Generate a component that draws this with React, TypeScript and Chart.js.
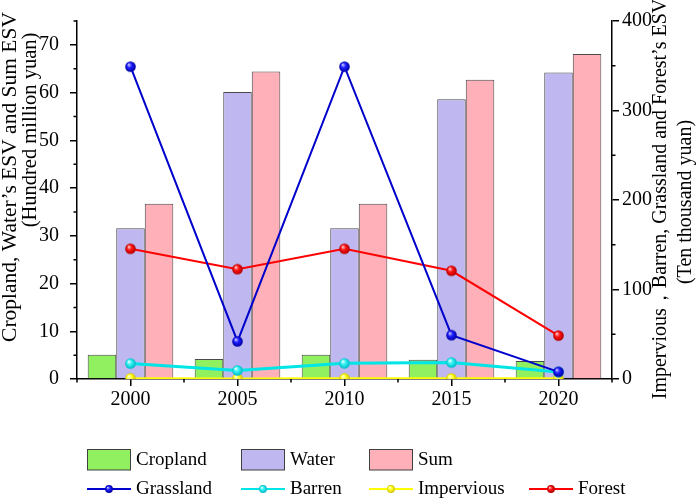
import { useEffect, useRef } from 'react';
import { Chart, registerables } from 'chart.js';

Chart.register(...registerables);

const categories = ['2000', '2005', '2010', '2015', '2020'];
const cropland = [5.07, 4.18, 5.07, 4.05, 3.77];
const water = [31.6, 60.1, 31.6, 58.6, 64.2];
const sum = [36.7, 64.4, 36.7, 62.7, 68.1];
const grassland = [349, 42, 349, 49, 8];
const barren = [17.3, 9.5, 17.5, 18.4, 7.7];
const impervious = [0.8, 0.6, 0.8, 0.7, 0.9];
const forest = [145.5, 122.7, 145.5, 120.9, 48.5];

const leftTitle = ['Cropland, Water\u2019s ESV and Sum ESV', '(Hundred million yuan)'];
const rightTitle = ['Impervious\uFF0CBarren, Grassland and Forest\u2019s ESV', '(Ten thousand yuan)'];
const legendRow1 = ['Cropland', 'Water', 'Sum'];
const legendRow2 = ['Grassland', 'Barren', 'Impervious', 'Forest'];

const FONT = '"Liberation Serif", "Times New Roman", serif';

function makeBall(light: string, mid: string, dark: string, r: number) {
  const c = document.createElement('canvas');
  const s = Math.ceil(r * 2) + 2;
  c.width = s;
  c.height = s;
  const g = c.getContext('2d')!;
  const cx = s / 2;
  const cy = s / 2;
  const grad = g.createRadialGradient(cx - r * 0.35, cy - r * 0.4, r * 0.05, cx, cy, r);
  grad.addColorStop(0, light);
  grad.addColorStop(0.45, mid);
  grad.addColorStop(1, dark);
  g.fillStyle = grad;
  g.beginPath();
  g.arc(cx, cy, r, 0, Math.PI * 2);
  g.fill();
  return c;
}

export default function App() {
  const ref = useRef<HTMLCanvasElement>(null);

  useEffect(() => {
    const canvas = ref.current!;
    const ballDefs: Record<string, [string, string, string]> = {
      Grassland: ['#c8c8ff', '#1a1aff', '#0000a0'],
      Barren: ['#e8ffff', '#30f0f0', '#00b8c8'],
      Impervious: ['#ffffe0', '#ffff20', '#d0c000'],
      Forest: ['#ffd0d0', '#ff1010', '#b00000'],
    };
    const big: Record<string, HTMLCanvasElement> = {};
    const small: Record<string, HTMLCanvasElement> = {};
    Object.keys(ballDefs).forEach((k) => {
      const [a, b, c] = ballDefs[k];
      big[k] = makeBall(a, b, c, 5.3);
      small[k] = makeBall(a, b, c, 3.9);
    });

    const lineColors: Record<string, string> = {
      Grassland: '#0000cc',
      Barren: '#00e5e5',
      Impervious: '#ffff00',
      Forest: '#ff0000',
    };
    const lineWidths: Record<string, number> = {
      Grassland: 2,
      Barren: 3,
      Impervious: 2,
      Forest: 2,
    };

    const lineDs = (label: string, data: number[]) => ({
      type: 'line' as const,
      label,
      data,
      yAxisID: 'y1',
      borderColor: lineColors[label],
      backgroundColor: lineColors[label],
      borderWidth: lineWidths[label],
      tension: 0,
      pointStyle: big[label],
      pointRadius: 5,
      order: 1,
    });

    const barDs = (label: string, data: number[], color: string) => ({
      type: 'bar' as const,
      label,
      data,
      yAxisID: 'y',
      backgroundColor: color,
      borderColor: '#4a4a4a',
      borderWidth: 1,
      categoryPercentage: 0.8,
      barPercentage: 1.0,
      order: 2,
    });

    const drawRot = (ctx: CanvasRenderingContext2D, text: string, cx: number, cy: number) => {
      ctx.save();
      ctx.translate(cx, cy);
      ctx.rotate(-Math.PI / 2);
      ctx.textAlign = 'center';
      ctx.textBaseline = 'middle';
      ctx.fillText(text, 0, 0);
      ctx.restore();
    };

    const decor = {
      id: 'decor',
      afterDraw(chart: any) {
        const { ctx, chartArea: a, scales } = chart;
        const x = scales.x;
        const y = scales.y;
        const y1 = scales.y1;
        ctx.save();
        // minor ticks
        ctx.strokeStyle = '#000';
        ctx.lineWidth = 1.5;
        ctx.beginPath();
        for (let v = y.min + 5; v <= y.max + 0.001; v += 10) {
          const p = y.getPixelForValue(v);
          ctx.moveTo(a.left - 3.5, p);
          ctx.lineTo(a.left, p);
        }
        for (let v = y1.min + 50; v < y1.max; v += 100) {
          const p = y1.getPixelForValue(v);
          ctx.moveTo(a.right, p);
          ctx.lineTo(a.right + 3.5, p);
        }
        const half = (x.getPixelForValue(1) - x.getPixelForValue(0)) / 2;
        for (let i = 0; i <= categories.length; i++) {
          const p = x.getPixelForValue(i) - half;
          ctx.moveTo(p, a.bottom);
          ctx.lineTo(p, a.bottom + 3.5);
        }
        ctx.stroke();

        // axis titles
        ctx.fillStyle = '#000';
        ctx.font = `21.5px ${FONT}`;
        drawRot(ctx, leftTitle[0], 10, 177);
        ctx.font = `20.5px ${FONT}`;
        drawRot(ctx, leftTitle[1], 31, 130);
        ctx.font = `20px ${FONT}`;
        drawRot(ctx, rightTitle[0], 661, 199);
        drawRot(ctx, rightTitle[1], 686, 202);

        // legend
        const cols = [87, 241, 369, 529];
        ctx.font = `19px ${FONT}`;
        ctx.textAlign = 'left';
        ctx.textBaseline = 'middle';
        legendRow1.forEach((label, i) => {
          const ds = chart.data.datasets.find((d: any) => d.label === label);
          const x0 = cols[i];
          ctx.fillStyle = ds.backgroundColor;
          ctx.fillRect(x0, 449.5, 43.5, 20.5);
          ctx.strokeStyle = '#404040';
          ctx.lineWidth = 1;
          ctx.strokeRect(x0 + 0.5, 449.5, 43, 20.5);
          ctx.fillStyle = '#000';
          ctx.fillText(label, x0 + 49, 460);
        });
        legendRow2.forEach((label, i) => {
          const ds = chart.data.datasets.find((d: any) => d.label === label);
          const x0 = cols[i];
          ctx.strokeStyle = ds.borderColor;
          ctx.lineWidth = 2;
          ctx.beginPath();
          ctx.moveTo(x0, 489);
          ctx.lineTo(x0 + 44, 489);
          ctx.stroke();
          const img = small[label];
          ctx.drawImage(img, x0 + 22 - img.width / 2, 489 - img.height / 2);
          ctx.fillStyle = '#000';
          ctx.fillText(label, x0 + 49, 489);
        });
        ctx.restore();
      },
    };

    const tickFont = { family: FONT, size: 20, lineHeight: 1 };
    const axisGrid = {
      display: true,
      drawOnChartArea: false,
      drawTicks: true,
      tickLength: 7,
      color: '#000',
      lineWidth: 1.5,
    };
    const axisBorder = { display: true, color: '#000', width: 1.5 };

    const chart = new Chart(canvas, {
      type: 'bar',
      data: {
        labels: categories,
        datasets: [
          barDs('Cropland', cropland, '#90f060'),
          barDs('Water', water, '#bfb8f0'),
          barDs('Sum', sum, '#ffb0b8'),
          lineDs('Grassland', grassland),
          lineDs('Barren', barren),
          lineDs('Impervious', impervious),
          lineDs('Forest', forest),
        ] as any,
      },
      options: {
        responsive: false,
        animation: false,
        layout: { padding: { top: 10, left: 0, right: 0, bottom: 0 } },
        plugins: {
          legend: { display: false },
          tooltip: { enabled: false },
        },
        scales: {
          x: {
            type: 'category',
            offset: true,
            grid: { ...axisGrid, offset: false },
            border: axisBorder,
            ticks: { font: tickFont, color: '#000', padding: 4, maxRotation: 0 },
            afterFit: (s: any) => {
              s.height = 124;
            },
          },
          y: {
            type: 'linear',
            position: 'left',
            min: 0,
            max: 75,
            grid: axisGrid,
            border: axisBorder,
            ticks: { stepSize: 10, includeBounds: false, font: tickFont, color: '#000', padding: 11 },
            afterFit: (s: any) => {
              s.width = 77;
            },
          },
          y1: {
            type: 'linear',
            position: 'right',
            min: 0,
            max: 400,
            grid: axisGrid,
            border: axisBorder,
            ticks: { stepSize: 100, font: tickFont, color: '#000', padding: 3 },
            afterFit: (s: any) => {
              s.width = 87;
            },
          },
        },
      } as any,
      plugins: [decor],
    });

    return () => chart.destroy();
  }, []);

  return (
    <div style={{ position: 'absolute', left: 0, top: 0, width: 699, height: 503, background: '#fff' }}>
      <canvas ref={ref} width={699} height={503} style={{ display: 'block' }} />
    </div>
  );
}
